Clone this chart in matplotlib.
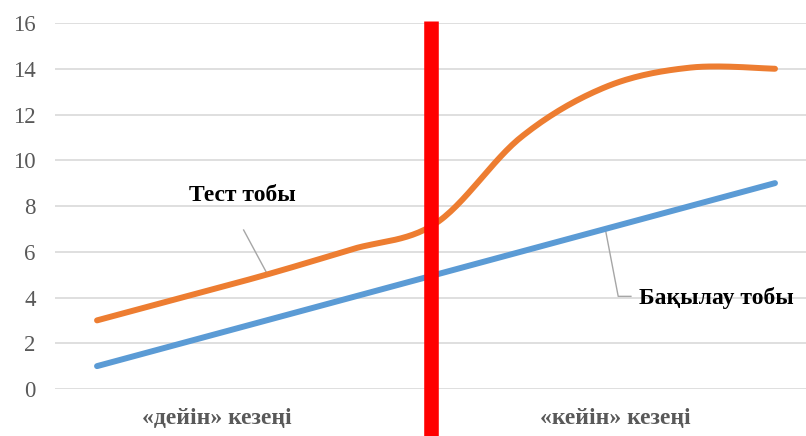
import matplotlib.pyplot as plt
import numpy as np

# data
x_idx = np.arange(9)
test_group = [3, 4, 5, 6.1, 7.25, 11, 13.2, 14.05, 14]
control_group = [1, 2, 3, 4, 5, 6, 7, 8, 9]
y_ticks = [0, 2, 4, 6, 8, 10, 12, 14, 16]
period_labels = ["«дейін» кезеңі", "«кейін» кезеңі"]
series_labels = ["Тест тобы", "Бақылау тобы"]


def smooth(xs, ys, n=30):
    # Excel-style smoothed line (Catmull-Rom bezier between points)
    xs = np.asarray(xs, float)
    ys = np.asarray(ys, float)
    px = np.concatenate([[xs[0]], xs, [xs[-1]]])
    py = np.concatenate([[ys[0]], ys, [ys[-1]]])
    out_x, out_y = [], []
    t = np.linspace(0, 1, n)
    for i in range(1, len(px) - 2):
        p0 = np.array([px[i], py[i]])
        p3 = np.array([px[i + 1], py[i + 1]])
        c1 = p0 + (np.array([px[i + 1], py[i + 1]]) - np.array([px[i - 1], py[i - 1]])) / 6
        c2 = p3 - (np.array([px[i + 2], py[i + 2]]) - np.array([px[i], py[i]])) / 6
        b = ((1 - t) ** 3)[:, None] * p0 + (3 * (1 - t) ** 2 * t)[:, None] * c1 \
            + (3 * (1 - t) * t ** 2)[:, None] * c2 + (t ** 3)[:, None] * p3
        out_x.extend(b[:, 0])
        out_y.extend(b[:, 1])
    return np.array(out_x), np.array(out_y)


fig = plt.figure(figsize=(8.06, 4.36), dpi=100)
ax = fig.add_axes([55 / 806, 1 - 389 / 436, 751 / 806, 366 / 436])

xlo, xhi = -0.496, 8.366
ax.set_xlim(xlo, xhi)
ax.set_ylim(0, 16)

ax.set_yticks(y_ticks)
ax.set_yticklabels([str(v) for v in y_ticks], fontsize=16.5, color="#595959",
                   family="Liberation Serif")
ax.tick_params(axis="y", length=0, pad=14)
ax.set_xticks([])
ax.grid(axis="y", color="#D9D9D9", linewidth=1.2)
ax.set_axisbelow(True)
for s in ax.spines.values():
    s.set_visible(False)

sx, sy = smooth(x_idx, control_group)
ax.plot(sx, sy, color="#5B9BD5", linewidth=4.3, solid_capstyle="round", zorder=3)
sx, sy = smooth(x_idx, test_group)
ax.plot(sx, sy, color="#ED7D31", linewidth=4.3, solid_capstyle="round", zorder=3)

# red divider in the middle
mid = (xlo + xhi) / 2
ax.plot([mid, mid], [-2.1, 16.1], color="#FF0000", linewidth=10.5,
        solid_capstyle="butt", clip_on=False, zorder=4)

# leader lines + series labels
ax.plot([1.73, 2.02], [6.95, 4.95], color="#A6A6A6", linewidth=1, zorder=2)
ax.text(1.71, 8.46, series_labels[0], fontsize=17, fontweight="bold",
        family="Liberation Serif", ha="center", va="center", color="black")
ax.plot([6.0, 6.15, 6.3], [6.95, 4.05, 4.05], color="#A6A6A6", linewidth=1, zorder=2)
ax.text(6.4, 4.0, series_labels[1], fontsize=17, fontweight="bold",
        family="Liberation Serif", ha="left", va="center", color="black")

# period labels under the axis
ax.text(1.415, -1.28, period_labels[0], fontsize=17, fontweight="bold",
        family="Liberation Serif", ha="center", va="center", color="#595959")
ax.text(6.11, -1.28, period_labels[1], fontsize=17, fontweight="bold",
        family="Liberation Serif", ha="center", va="center", color="#595959")

fig.savefig("out.png", dpi=100, facecolor="white")
